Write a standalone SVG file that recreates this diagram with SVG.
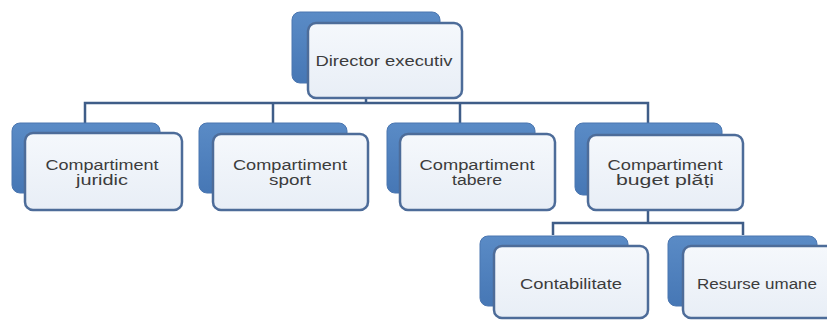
<svg xmlns="http://www.w3.org/2000/svg" width="827" height="320" viewBox="0 0 827 320">
<defs>
<linearGradient id="gBack" x1="0" y1="0" x2="0" y2="1">
<stop offset="0" stop-color="#5a8bc6"/>
<stop offset="1" stop-color="#4677b5"/>
</linearGradient>
<linearGradient id="gFront" x1="0" y1="0" x2="0" y2="1">
<stop offset="0" stop-color="#f5f8fc"/>
<stop offset="1" stop-color="#e8eef6"/>
</linearGradient>
<style>
.back{fill:url(#gBack);stroke:#4a76b0;stroke-width:1}
.front{fill:url(#gFront);stroke:#4d6c99;stroke-width:2.5}
.lbl{font-family:"Liberation Sans","Open Sans",Arial,sans-serif;font-size:14px;fill:#3c3c3c;text-anchor:middle}
.conn{fill:none;stroke:#3f5d88;stroke-width:2.5}
</style>
</defs>
<rect width="827" height="320" fill="#ffffff"/>
<g id="connectors">
<path class="conn" d="M366,98 V103"/>
<path class="conn" d="M85,123 V103 H648 V123"/>
<path class="conn" d="M273,103 V123"/>
<path class="conn" d="M460,103 V123"/>
<path class="conn" d="M648,210 V223"/>
<path class="conn" d="M553,235 V223 H743 V235"/>
</g>
<g id="director">
<rect class="back" x="292" y="12" width="148" height="71" rx="8"/>
<rect class="front" x="308" y="23" width="154" height="75" rx="8"/>
<text class="lbl" x="384" y="66" textLength="137" lengthAdjust="spacingAndGlyphs">Director executiv</text>
</g>
<g id="juridic">
<rect class="back" x="12" y="123" width="148" height="70" rx="8"/>
<rect class="front" x="25" y="133" width="157" height="77" rx="8"/>
<text class="lbl" x="102" y="170" textLength="113" lengthAdjust="spacingAndGlyphs">Compartiment</text>
<text class="lbl" x="102" y="185" textLength="52" lengthAdjust="spacingAndGlyphs">juridic</text>
</g>
<g id="sport">
<rect class="back" x="199" y="123" width="148" height="70" rx="8"/>
<rect class="front" x="213" y="134" width="155" height="76" rx="8"/>
<text class="lbl" x="290" y="170" textLength="114" lengthAdjust="spacingAndGlyphs">Compartiment</text>
<text class="lbl" x="290" y="185" textLength="42" lengthAdjust="spacingAndGlyphs">sport</text>
</g>
<g id="tabere">
<rect class="back" x="387" y="123" width="148" height="70" rx="8"/>
<rect class="front" x="400" y="134" width="155" height="76" rx="8"/>
<text class="lbl" x="477" y="170" textLength="115" lengthAdjust="spacingAndGlyphs">Compartiment</text>
<text class="lbl" x="477" y="185" textLength="50" lengthAdjust="spacingAndGlyphs">tabere</text>
</g>
<g id="buget">
<rect class="back" x="575" y="123" width="147" height="72" rx="8"/>
<rect class="front" x="588" y="135" width="155" height="75" rx="8"/>
<text class="lbl" x="665" y="170" textLength="115" lengthAdjust="spacingAndGlyphs">Compartiment</text>
<text class="lbl" x="665" y="185" textLength="98" lengthAdjust="spacingAndGlyphs">buget plăți</text>
</g>
<g id="contabilitate">
<rect class="back" x="480" y="236" width="148" height="70" rx="8"/>
<rect class="front" x="494" y="246" width="154" height="72" rx="8"/>
<text class="lbl" x="571" y="289" textLength="102" lengthAdjust="spacingAndGlyphs">Contabilitate</text>
</g>
<g id="resurse">
<rect class="back" x="668" y="236" width="149" height="70" rx="8"/>
<rect class="front" x="683" y="246" width="155" height="72" rx="8"/>
<text class="lbl" x="757" y="289" textLength="120" lengthAdjust="spacingAndGlyphs">Resurse umane</text>
</g>
</svg>
